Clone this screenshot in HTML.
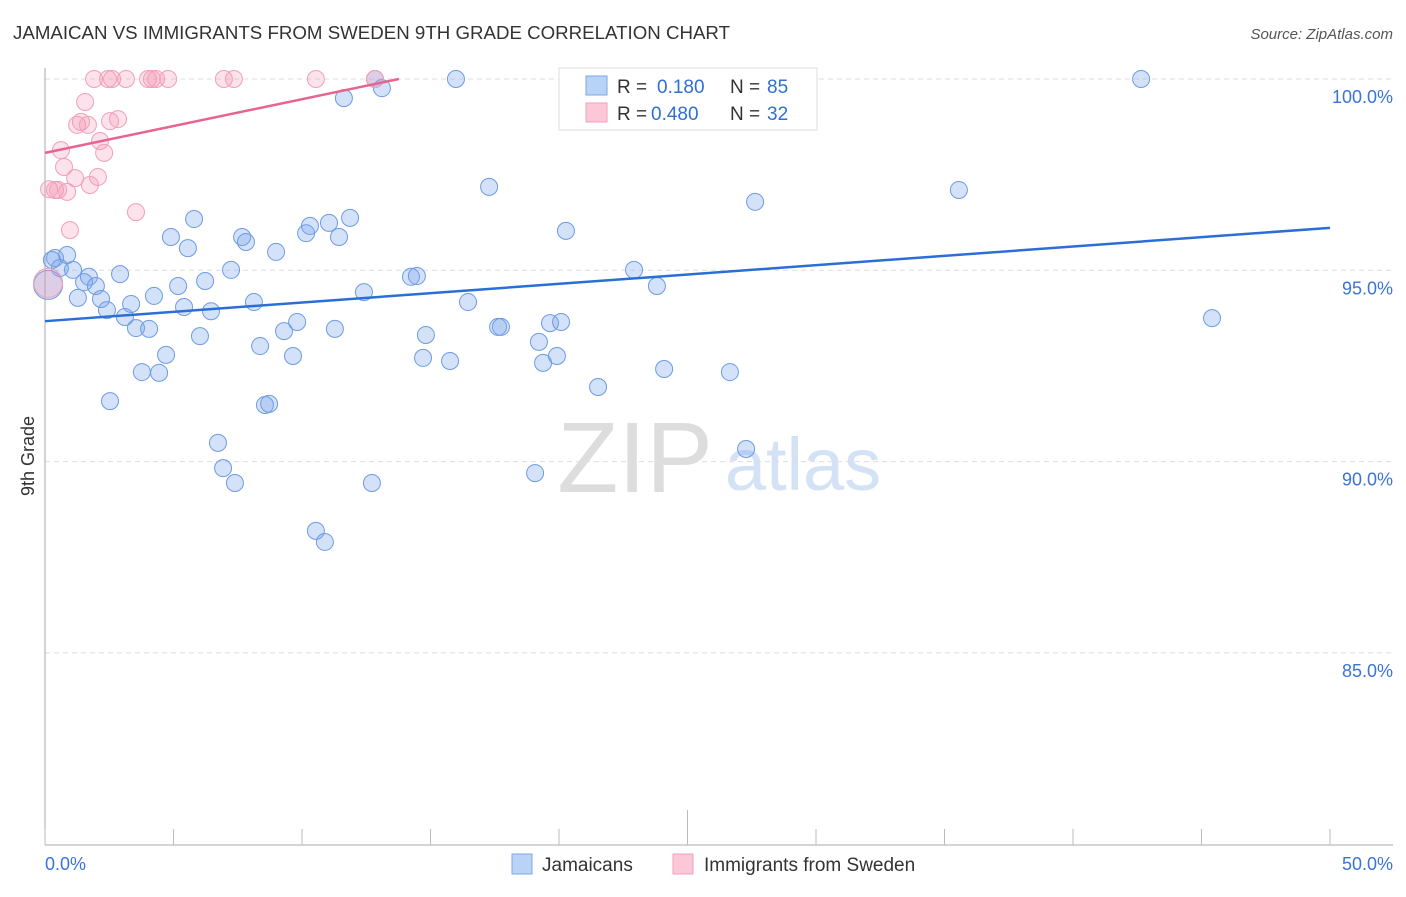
<!DOCTYPE html>
<html><head><meta charset="utf-8"><style>
body{margin:0;background:#fff;font-family:"Liberation Sans",sans-serif;}
svg text{font-family:"Liberation Sans",sans-serif;}
</style></head><body>
<svg width="1406" height="892" viewBox="0 0 1406 892">
<text x="13" y="39" font-size="18" fill="#333" textLength="717" lengthAdjust="spacingAndGlyphs">JAMAICAN VS IMMIGRANTS FROM SWEDEN 9TH GRADE CORRELATION CHART</text>
<text x="1393" y="39" font-size="15" fill="#555" text-anchor="end" font-style="italic">Source: ZipAtlas.com</text>
<g>
<text x="635" y="492" font-size="100" font-family="Liberation Serif,serif" fill="#ddd" text-anchor="middle">ZIP</text>
<text x="803" y="490" font-size="74" fill="#d4e2f5" text-anchor="middle">atlas</text>
</g>
<g id="grid"></g>
<g id="axes"></g>
<text transform="translate(34,456) rotate(-90)" font-size="18" fill="#333" text-anchor="middle">9th Grade</text>
<g id="marks"></g>
<g>
<rect x="559" y="68" width="258" height="62" fill="#fff" stroke="#ddd"/>
<rect x="586" y="76" width="21" height="19" fill="#b8d3f5" stroke="#7aa7e8"/>
<rect x="586" y="103" width="21" height="19" fill="#fcc8d8" stroke="#f0a0b8"/>
<text x="617" y="93" font-size="19" fill="#333">R = </text><text x="657" y="93" font-size="19" fill="#2f6fd6">0.180</text>
<text x="730" y="93" font-size="19" fill="#333">N = </text><text x="767" y="93" font-size="19" fill="#2f6fd6">85</text>
<text x="617" y="120" font-size="19" fill="#333">R = </text><text x="651" y="120" font-size="19" fill="#2f6fd6">0.480</text>
<text x="730" y="120" font-size="19" fill="#333">N = </text><text x="767" y="120" font-size="19" fill="#2f6fd6">32</text>
</g>
<g>
<rect x="512" y="854" width="20" height="20" fill="#b8d3f5" stroke="#7aa7e8"/>
<text x="542" y="871" font-size="19" fill="#333">Jamaicans</text>
<rect x="673" y="854" width="20" height="20" fill="#fcc8d8" stroke="#f0a0b8"/>
<text x="704" y="871" font-size="19" fill="#333">Immigrants from Sweden</text>
</g>
</svg>
<script>
const xTickLabels=["0.0%","50.0%"];
const yTicks=[100,95,90,85];
const blueX=[0.39,0.86,0.58,1.09,1.71,1.52,1.98,1.28,2.18,2.41,2.92,3.11,3.35,3.54,4.05,4.24,3.77,4.44,4.71,2.53,4.90,5.18,5.41,5.56,5.80,6.03,6.23,6.46,6.73,6.93,7.39,7.24,7.67,7.82,8.13,8.37,8.56,8.72,8.99,9.30,9.65,9.81,10.16,10.31,10.54,10.89,11.05,11.28,11.44,11.63,11.87,12.41,12.72,12.84,13.11,14.24,14.47,14.71,14.82,15.76,15.99,16.46,17.28,17.63,17.74,19.07,19.22,19.38,19.65,19.92,20.08,20.27,21.52,22.92,23.81,24.09,26.46,26.65,27.28,27.63,35.56,42.65,45.41,0.12,0.27];
const blueY=[95.32,95.40,95.06,95.01,94.83,94.69,94.59,94.28,94.25,93.96,94.90,93.78,94.12,93.49,93.47,94.33,92.34,92.32,92.79,91.58,95.87,94.59,94.04,95.58,96.34,93.28,94.72,93.93,90.49,89.83,89.44,95.01,95.87,95.74,94.17,93.02,91.48,91.51,95.48,93.41,92.76,93.65,95.97,96.16,88.19,87.90,96.24,93.47,95.87,99.50,96.37,94.43,89.44,100,99.76,94.83,94.85,92.71,93.31,92.63,100,94.17,97.18,93.52,93.52,89.70,93.13,92.58,93.62,92.76,93.65,96.03,91.95,95.01,94.59,92.42,100,92.34,90.33,96.79,97.10,100,93.75,94.62,95.27];
const pinkX=[1.91,2.45,2.61,3.15,4.01,4.16,4.32,4.79,6.96,7.35,10.54,12.84,1.56,1.40,2.53,1.25,1.67,2.84,0.62,2.14,2.30,0.74,1.17,2.06,1.75,0.16,0.39,0.86,0.51,3.54,0.97,0.12];
const pinkY=[100,100,100,100,100,100,100,100,100,100,100,100,99.40,98.88,98.90,98.80,98.80,98.95,98.14,98.38,98.07,97.70,97.41,97.44,97.23,97.12,97.10,97.05,97.10,96.52,96.05,94.67];
const blueTrend=[[0,93.67],[50,96.11]];
const pinkTrend=[[0,98.07],[13.77,100]];
const NS="http://www.w3.org/2000/svg";
const X=v=>45+v*25.7, Y=v=>79+(100-v)*38.26;
function mk(tag,at,parent){const e=document.createElementNS(NS,tag);for(const k in at)e.setAttribute(k,at[k]);parent.appendChild(e);return e;}
const grid=document.getElementById('grid'),axes=document.getElementById('axes'),marks=document.getElementById('marks');
yTicks.forEach(t=>{
 const l=mk('line',{x1:45,x2:1393,y1:Y(t),y2:Y(t),stroke:'#ddd','stroke-dasharray':'5,4'},grid);
 
 
 const tx=mk('text',{x:1393,y:Y(t)+24,'font-size':18,fill:'#3a74d8','text-anchor':'end'},axes);
 tx.textContent=t.toFixed(1)+'%';
 
 
});
const ya=mk('line',{x1:45,x2:45,y1:68,y2:845,stroke:'#aaa'},axes);


const xa=mk('line',{x1:45,x2:1393,y1:845,y2:845,stroke:'#aaa'},axes);


for(let i=0;i<=10;i++){
 const v=i*5;
 const tk=mk('line',{x1:X(v),x2:X(v),y1:i==5?810:829,y2:845,stroke:'#bbb'},axes);
 
 
}
xTickLabels.forEach((s,i)=>{
 const tx=mk('text',{x:i?1393:45,y:870,'font-size':18,fill:'#3a74d8','text-anchor':i?'end':'start'},axes);
 tx.textContent=s;
 
 
});
function pts(xs,ys,fill,stroke,name,bigIdx){
 xs.forEach((x,i)=>{
  const c=mk('circle',{cx:X(x),cy:Y(ys[i]),r:i===bigIdx?14.5:8.5,fill:fill,stroke:stroke,'stroke-width':1},marks);
  
  
 });
}
pts(blueX,blueY,'rgba(120,165,235,0.32)','#6d9be3','jamaicans-point',83);
pts(pinkX,pinkY,'rgba(245,150,180,0.28)','#f0a0b8','sweden-point',31);
const bt=mk('line',{x1:X(blueTrend[0][0]),y1:Y(blueTrend[0][1]),x2:X(blueTrend[1][0]),y2:Y(blueTrend[1][1]),stroke:'#2a6fd6','stroke-width':2.5},marks);


const pt=mk('line',{x1:X(pinkTrend[0][0]),y1:Y(pinkTrend[0][1]),x2:X(pinkTrend[1][0]),y2:Y(pinkTrend[1][1]),stroke:'#e8638e','stroke-width':2.5},marks);


</script>
</body></html>
